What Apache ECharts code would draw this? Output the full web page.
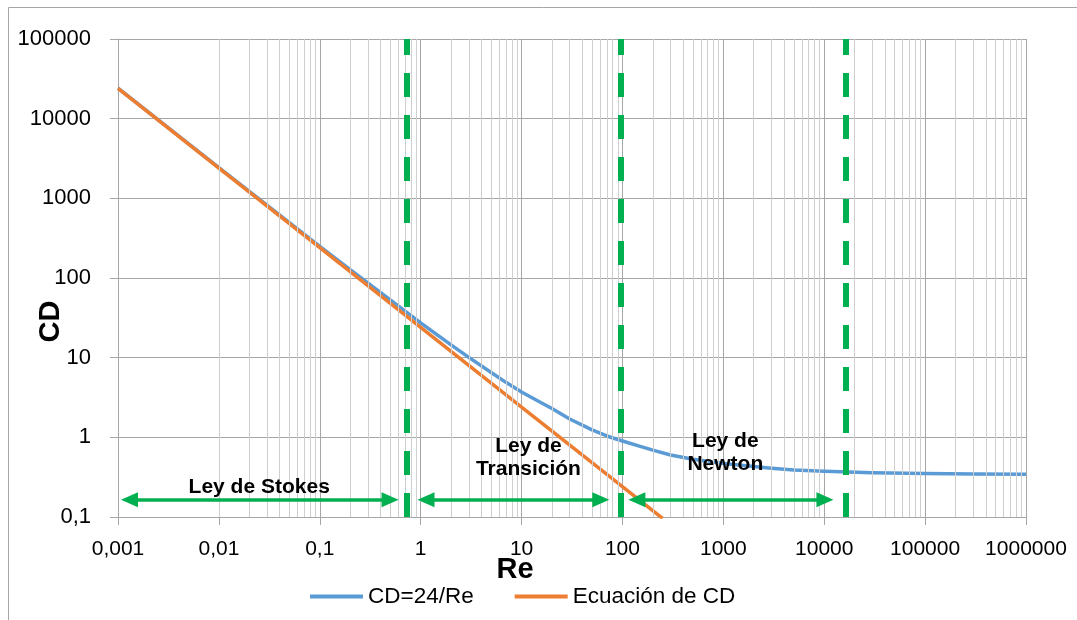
<!DOCTYPE html>
<html>
<head>
<meta charset="utf-8">
<script src="https://cdn.jsdelivr.net/npm/echarts@6/dist/echarts.min.js"></script>
<style>
html,body{margin:0;padding:0;background:#fff;}
#chart{width:1077px;height:620px;}
</style>
</head>
<body>
<div id="chart"></div>
<script>
// ---- data ----
const seriesNames = ['CD=24/Re', 'Ecuación de CD'];
const reBlue = [0.001, 0.01, 0.1, 0.2, 0.5, 1, 2, 3, 5, 7, 10, 15, 20, 30, 50, 70, 100, 150, 200, 300, 500, 700, 1000, 2000, 3000, 5000, 10000, 30000, 100000, 300000, 1000000];
const cdBlue = [24100, 2430, 250, 127, 53, 27.3, 14.5, 10.1, 6.5, 4.9, 3.7, 2.8, 2.3, 1.7, 1.24, 1.04, 0.9, 0.77, 0.69, 0.6, 0.53, 0.5, 0.47, 0.43, 0.41, 0.39, 0.375, 0.36, 0.352, 0.346, 0.343];
const reOrange = [0.001, 0.01, 0.1, 1, 10, 100, 250];
const cdOrange = [24000, 2400, 240, 24, 2.4, 0.24, 0.096];
const regionBounds = [0.73, 96, 16400];
const regionNames = ['Ley de Stokes', 'Ley de\nTransición', 'Ley de\nNewton'];
const xTickLabels = ['0,001', '0,01', '0,1', '1', '10', '100', '1000', '10000', '100000', '1000000'];
const yTickLabels = ['0,1', '1', '10', '100', '1000', '10000', '100000'];

// ---- chart ----
const chart = echarts.init(document.getElementById('chart'), null, {renderer: 'canvas'});
const FONT = '"Liberation Sans", Arial, sans-serif';
const MAJOR = '#a6a6a6';
const MINOR = '#cfcfcf';
const GREEN = '#00B050';
const BLUE = '#5B9BD5';
const ORANGE = '#ED7D31';

const minorX = [];
for (let d = -3; d < 6; d++) {
  for (let m = 2; m <= 9; m++) minorX.push({xAxis: m * Math.pow(10, d)});
}

const arrowY = 0.165;
const arrows = [
  [[0.0013, arrowY], [0.4975, arrowY]],
  [[1.13, arrowY], [61, arrowY]],
  [[139, arrowY], [10170, arrowY]]
];
const labelPos = [[0.0251, 0.234], [11.7, 0.56], [1047, 0.636]];

chart.setOption({
  animation: false,
  backgroundColor: '#fff',
  textStyle: {fontFamily: FONT},
  graphic: [{
    type: 'rect', silent: true,
    shape: {x: 8.5, y: 7.5, width: 1300, height: 1000},
    style: {fill: 'none', stroke: '#a6a6a6', lineWidth: 1}
  }],
  grid: {left: 118, right: 51, top: 39, bottom: 103, containLabel: false, outerBoundsMode: 'none'},
  legend: {
    data: [
      {name: seriesNames[0], icon: 'rect', itemStyle: {color: BLUE}},
      {name: seriesNames[1], icon: 'rect', itemStyle: {color: ORANGE}}
    ],
    left: 310, top: 585, padding: 0,
    itemWidth: 53, itemHeight: 4, itemGap: 41,
    textStyle: {fontSize: 22.5, color: '#000', fontFamily: FONT}
  },
  xAxis: {
    type: 'log', logBase: 10, min: 0.001, max: 1000000, splitNumber: 10,
    name: 'Re', nameLocation: 'middle', nameGap: 38, nameMoveOverlap: false,
    nameTextStyle: {fontSize: 29, fontWeight: 'bold', color: '#000', fontFamily: FONT, padding: [0, 114, 0, 0]},
    axisLine: {show: true, lineStyle: {color: MAJOR, width: 1}},
    axisTick: {show: true, length: 8, lineStyle: {color: MAJOR}},
    axisLabel: {
      fontSize: 21, color: '#000', margin: 22, fontFamily: FONT,
      formatter: v => xTickLabels[Math.round(Math.log10(v)) + 3]
    },
    splitLine: {show: true, lineStyle: {color: MAJOR, width: 1}},
    minorTick: {show: false}, minorSplitLine: {show: false}
  },
  yAxis: {
    type: 'log', logBase: 10, min: 0.1, max: 100000, splitNumber: 10,
    name: 'CD', nameLocation: 'middle', nameGap: 53, nameRotate: 90, nameMoveOverlap: false,
    nameTextStyle: {fontSize: 29, fontWeight: 'bold', color: '#000', fontFamily: FONT, padding: [0, 87, 0, 0]},
    axisLine: {show: true, lineStyle: {color: MAJOR, width: 1}},
    axisTick: {show: true, length: 8, lineStyle: {color: MAJOR}},
    axisLabel: {
      fontSize: 22, color: '#000', margin: 27, fontFamily: FONT,
      formatter: v => yTickLabels[Math.round(Math.log10(v)) + 1]
    },
    splitLine: {show: true, lineStyle: {color: MAJOR, width: 1}}
  },
  series: [
    {
      name: '__grid', type: 'line', data: [], z: 1, silent: true,
      markLine: {
        silent: true, symbol: 'none', animation: false,
        label: {show: false},
        lineStyle: {color: MINOR, width: 1, type: 'solid'},
        data: minorX
      }
    },
    {
      name: seriesNames[0], type: 'line', z: 3,
      data: reBlue.map((r, i) => [r, cdBlue[i]]),
      symbol: 'none', showSymbol: false, smooth: false,
      lineStyle: {color: BLUE, width: 3.5, join: 'round'}, itemStyle: {color: BLUE}
    },
    {
      name: seriesNames[1], type: 'line', z: 4, clip: true,
      data: reOrange.map((r, i) => [r, cdOrange[i]]),
      symbol: 'none', showSymbol: false,
      lineStyle: {color: ORANGE, width: 3.5}, itemStyle: {color: ORANGE}
    },
    {
      name: '__annot', type: 'line', data: [], z: 5, silent: true,
      markLine: {
        silent: true, animation: false,
        symbol: 'none', label: {show: false},
        lineStyle: {color: GREEN, width: 6, type: [24, 18], opacity: 1},
        data: regionBounds.map(v => ({xAxis: v}))
      }
    },
    {
      name: '__arrows', type: 'line', data: [], z: 6, silent: true,
      markLine: {
        silent: true, animation: false,
        symbol: ['triangle', 'triangle'], symbolSize: [15, 17],
        label: {show: false},
        lineStyle: {color: GREEN, width: 3.5, type: 'solid', opacity: 1},
        itemStyle: {color: GREEN},
        data: arrows.map(a => [{coord: a[0]}, {coord: a[1]}])
      },
      markPoint: {
        silent: true, animation: false,
        symbol: 'circle', symbolSize: 0,
        label: {
          show: true, position: 'inside', color: '#000', fontSize: 21,
          fontWeight: 'bold', lineHeight: 23, fontFamily: FONT,
          formatter: p => p.name
        },
        data: labelPos.map((c, i) => ({name: regionNames[i], coord: c}))
      }
    }
  ]
});
</script>
</body>
</html>
